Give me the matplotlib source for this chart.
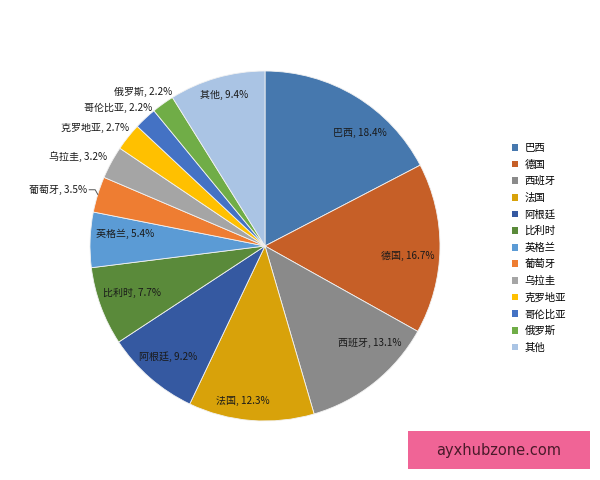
import matplotlib
matplotlib.use("Agg")
import matplotlib.pyplot as plt
from matplotlib.patches import Patch, Rectangle
import numpy as np

plt.rcParams['font.family'] = ['Noto Sans CJK SC', 'DejaVu Sans']

countries = ["巴西", "德国", "西班牙", "法国", "阿根廷", "比利时", "英格兰",
             "葡萄牙", "乌拉圭", "克罗地亚", "哥伦比亚", "俄罗斯", "其他"]
shares = [18.4, 16.7, 13.1, 12.3, 9.2, 7.7, 5.4, 3.5, 3.2, 2.7, 2.2, 2.2, 9.4]
colors = ["#4678AE", "#C65F27", "#8A8A8A", "#D8A20A", "#3559A1", "#5A8A3A",
          "#5B9BD5", "#EE7D32", "#A5A5A5", "#FFC000", "#4472C4", "#70AD47",
          "#AAC4E4"]

# label placement style: (inside?, radius factor, angle offset in degrees)
label_inside = [True, True, True, True, True, True, True,
                False, False, False, False, False, True]
label_r = [0.843, 0.819, 0.817, 0.895, 0.842, 0.806, 0.803,
           1.066, 1.036, 1.029, 1.019, 1.028, 0.894]
label_dtheta = [8.9, 3.2, -8.7, 3.5, 0.0, 0.7, 2.9,
                0.4, 0.9, 2.4, 3.8, 4.6, 0.8]

fig = plt.figure(figsize=(6, 4.8), dpi=100)
ax = fig.add_axes([0.15, 0.1229, 0.5833, 0.7292])
wedges, _ = ax.pie(shares, colors=colors, startangle=90, counterclock=False,
                   radius=1.0, wedgeprops=dict(edgecolor="#f2f2f2", linewidth=0.6))
ax.set_xlim(-1, 1)
ax.set_ylim(-1, 1)
ax.set_aspect('equal')
ax.axis('off')

txtcolor = "#1a1a1a"
for w, name, v, inside, r, dth in zip(wedges, countries, shares, label_inside,
                                      label_r, label_dtheta):
    mid = 0.5 * (w.theta1 + w.theta2)  # matplotlib degrees (ccw from +x)
    ang = np.deg2rad(mid - dth)
    x, y = r * np.cos(ang), r * np.sin(ang)
    label = f"{name}, {v}%"
    if inside:
        ax.text(x, y, label, ha='center', va='center', fontsize=7.2, color=txtcolor)
    else:
        ax.text(x, y, label, ha='right', va='center', fontsize=7.2, color=txtcolor)
        if name == "葡萄牙":
            ex, ey = np.cos(np.deg2rad(mid)), np.sin(np.deg2rad(mid))
            ax.plot([x + 0.012, x + 0.046, ex], [y, y, ey], color="#555555",
                    linewidth=0.7, clip_on=False)

handles = [Patch(facecolor=c, edgecolor='none') for c in colors]
fig.legend(handles, countries, loc='upper left', bbox_to_anchor=(0.853, 0.702),
           frameon=False, fontsize=7.5, handlelength=0.6, handleheight=0.6,
           handletextpad=0.6, labelspacing=0.62, borderpad=0, borderaxespad=0)

# watermark box
fig.add_artist(Rectangle((0.68, 0.0229), 0.3033, 0.0792, transform=fig.transFigure,
                         facecolor='#F06496', edgecolor='none'))
fig.text(0.8317, 0.0625, "ayxhubzone.com", ha='center', va='center', fontsize=10.5,
         color="#4a1a2a", family='DejaVu Sans')

fig.savefig("out.png", dpi=100)
